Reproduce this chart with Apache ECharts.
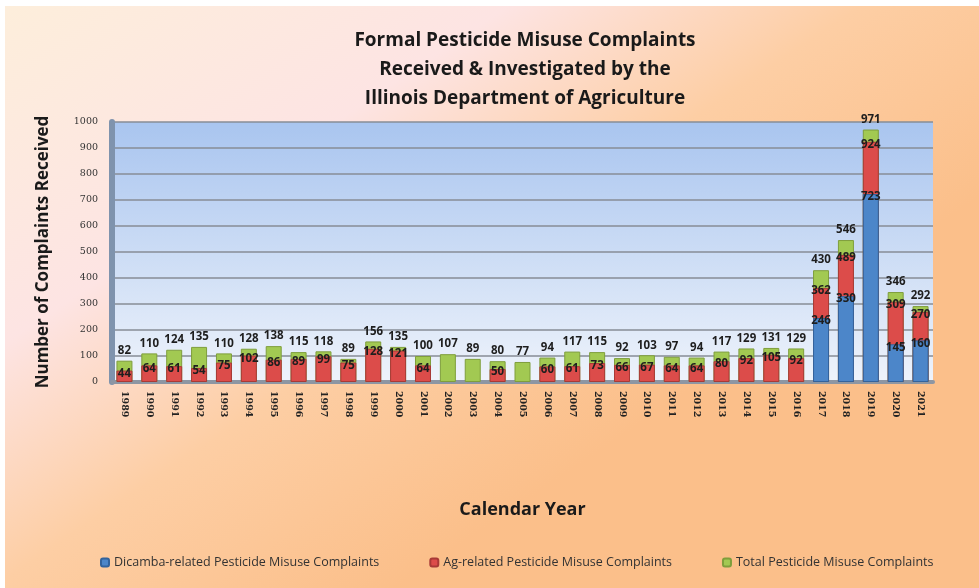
<!DOCTYPE html>
<html>
<head>
<meta charset="utf-8">
<script src="https://cdn.jsdelivr.net/npm/echarts@6/dist/echarts.min.js"></script>
<style>
  html, body { margin: 0; padding: 0; background: #fff; }
  #chart { position: absolute; left: 5px; top: 6px; width: 974px; height: 582px; }
</style>
</head>
<body>
<div id="chart"></div>
<script>
const years = ['1989','1990','1991','1992','1993','1994','1995','1996','1997','1998','1999','2000',
  '2001','2002','2003','2004','2005','2006','2007','2008','2009','2010','2011','2012','2013',
  '2014','2015','2016','2017','2018','2019','2020','2021'];
const totalComplaints = [82,110,124,135,110,128,138,115,118,89,156,135,
  100,107,89,80,77,94,117,115,92,103,97,94,117,
  129,131,129,430,546,971,346,292];
const agComplaints = [44,64,61,54,75,102,86,89,99,75,128,121,
  64,null,null,50,null,60,61,73,66,67,64,64,80,
  92,105,92,362,489,924,309,270];
const dicambaComplaints = [null,null,null,null,null,null,null,null,null,null,null,null,
  null,null,null,null,null,null,null,null,null,null,null,null,null,
  null,null,null,246,330,723,145,160];

const chart = echarts.init(document.getElementById('chart'));

const labelFont = {fontFamily: 'Open Sans', fontWeight: 'bold', fontSize: 11.5, color: '#1e1e1e'};

const option = {
  backgroundColor: {
    type: 'linear', x: 0, y: 0, x2: 0.4, y2: 1,
    colorStops: [
      {offset: 0, color: '#fdeedb'},
      {offset: 0.4, color: '#fde4e3'},
      {offset: 0.68, color: '#fdcea4'},
      {offset: 1, color: '#fbbf8a'}
    ]
  },
  title: {
    text: 'Formal Pesticide Misuse Complaints\nReceived & Investigated by the\nIllinois Department of Agriculture',
    left: 515, top: 15, textAlign: 'center',
    textStyle: {fontFamily: 'Open Sans', fontWeight: 'bold', fontSize: 19, lineHeight: 29, color: '#1a1a1a'}
  },
  legend: {
    bottom: 14, left: 90, itemGap: 50, itemWidth: 8, itemHeight: 8,
    data: ['Dicamba-related Pesticide Misuse Complaints', 'Ag-related Pesticide Misuse Complaints', 'Total Pesticide Misuse Complaints'],
    textStyle: {fontFamily: 'Open Sans', fontSize: 12.5, color: '#333'}
  },
  grid: {
    left: 107, right: 46, top: 116, bottom: 206, show: true, borderWidth: 0,
    backgroundColor: {
      type: 'linear', x: 0, y: 0, x2: 0, y2: 1,
      colorStops: [{offset: 0, color: '#a9c5ef'}, {offset: 1, color: '#eef3fb'}]
    }
  },
  xAxis: {
    type: 'category', data: years,
    name: 'Calendar Year', nameLocation: 'middle', nameGap: 119,
    nameTextStyle: {fontFamily: 'Open Sans', fontWeight: 'bold', fontSize: 18, color: '#1a1a1a'},
    axisLine: {lineStyle: {color: '#8d96a3', width: 4}},
    axisTick: {show: false},
    axisLabel: {interval: 0, rotate: -90, fontFamily: 'DejaVu Serif', fontWeight: 'bold', fontSize: 9.5, color: '#222', margin: 9}
  },
  yAxis: {
    type: 'value', min: 0, max: 1000, interval: 100,
    name: 'Number of Complaints Received', nameLocation: 'middle', nameGap: 60,
    nameTextStyle: {fontFamily: 'Open Sans', fontWeight: 'bold', fontSize: 17, color: '#1a1a1a'},
    axisLine: {show: true, lineStyle: {color: '#7f93ad', width: 6}},
    axisTick: {show: false},
    axisLabel: {fontFamily: 'DejaVu Serif', fontSize: 9.5, color: '#333', margin: 14, formatter: v => String(v)},
    splitLine: {lineStyle: {color: '#878d96', width: 1.5}}
  },
  series: [
    {
      name: 'Total Pesticide Misuse Complaints', type: 'bar', data: totalComplaints,
      barWidth: 16, barGap: '-100%', z: 2,
      itemStyle: {color: '#a2c952', borderColor: '#7f9e3c', borderWidth: 1},
      label: Object.assign({show: true, position: 'top', distance: 4}, labelFont)
    },
    {
      name: 'Ag-related Pesticide Misuse Complaints', type: 'bar', data: agComplaints,
      barWidth: 16, barGap: '-100%', z: 3,
      itemStyle: {color: '#dc4c4a', borderColor: '#a83a37', borderWidth: 1},
      label: Object.assign({show: true, position: 'top', distance: 0, offset: [0, 9]}, labelFont)
    },
    {
      name: 'Dicamba-related Pesticide Misuse Complaints', type: 'bar', data: dicambaComplaints,
      barWidth: 16, barGap: '-100%', z: 4,
      itemStyle: {color: '#4c86c9', borderColor: '#33639c', borderWidth: 1},
      label: Object.assign({show: true, position: 'top', distance: 0, offset: [0, 9]}, labelFont)
    }
  ]
};
chart.setOption(option);
window.addEventListener('resize', () => chart.resize());
</script>
</body>
</html>
